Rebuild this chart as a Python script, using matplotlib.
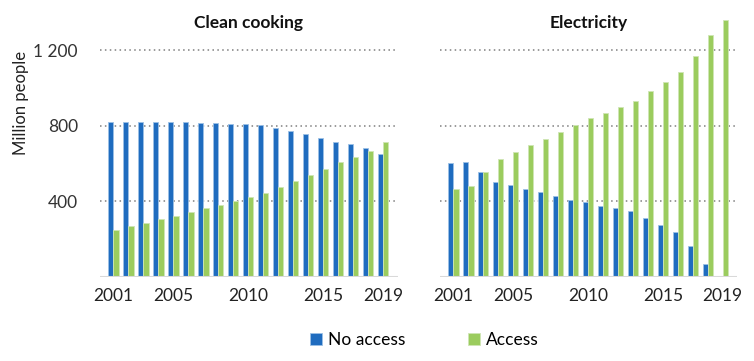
import matplotlib.pyplot as plt
import numpy as np

plt.rcParams['font.family'] = ['Lato', 'DejaVu Sans']

# Data (million people)
years = np.arange(2001, 2020)

cooking_no_access = [823, 823, 823, 821, 821, 820, 818, 816, 812, 809,
                     805, 789, 773, 756, 734, 716, 702, 686, 652]
cooking_access = [251, 268, 288, 308, 325, 345, 364, 384, 405, 425,
                  444, 476, 510, 540, 574, 608, 638, 668, 713]

elec_no_access = [603, 607, 554, 503, 485, 466, 448, 427, 408, 395,
                  378, 363, 348, 311, 273, 236, 164, 71, 3]
elec_access = [468, 483, 554, 626, 662, 697, 732, 769, 806, 840,
               868, 900, 932, 983, 1034, 1087, 1172, 1283, 1364]

tick_years = [2001, 2005, 2010, 2015, 2019]
yticks = [400, 800, 1200]
ytick_labels = ["400", "800", "1 200"]

blue = "#1f6cbf"
green = "#9bcc5e"

fig = plt.figure(figsize=(7.54, 3.61), dpi=100)
ax1 = fig.add_axes([0.1326, 0.2327, 0.395, 0.732])
ax2 = fig.add_axes([0.5836, 0.2327, 0.394, 0.732])

w = 0.34
panels = [(ax1, "Clean cooking", cooking_no_access, cooking_access),
          (ax2, "Electricity", elec_no_access, elec_access)]

for ax, title, no_acc, acc in panels:
    ax.bar(years - w / 2, no_acc, width=w, color=blue, edgecolor="#9cc0e6",
           linewidth=0.6, label="No access", zorder=3)
    ax.bar(years + w / 2, acc, width=w, color=green, edgecolor="#cfe6b4",
           linewidth=0.6, label="Access", zorder=3)
    ax.set_xlim(2000.1, 2019.97)
    ax.set_ylim(0, 1400)
    for y in yticks:
        ax.axhline(y, color="#7f7f7f", linestyle=(0, (1, 2.2)), linewidth=1.1, zorder=1)
    ax.axhline(0, color="#d9d9d9", linewidth=1.5, zorder=4)
    for s in ax.spines.values():
        s.set_visible(False)
    ax.set_xticks(tick_years)
    ax.set_xticklabels([str(t) for t in tick_years], fontsize=12.5, color="#222222")
    ax.tick_params(length=0, pad=8)
    ax.text(0.5, 0.962, title, transform=ax.transAxes, ha="center", va="center",
            fontsize=12.5, fontweight="bold", color="#111111")

ax1.set_yticks(yticks)
ax1.set_yticklabels(ytick_labels, fontsize=12.5, color="#333333")
ax1.tick_params(axis="y", pad=16)
ax1.set_ylabel("Million people", fontsize=12, color="#222222")
ax1.yaxis.set_label_coords(-0.24, 0.66)
ax2.set_yticks([])

handles, labels = ax1.get_legend_handles_labels()
fig.legend(handles, labels, loc="center", bbox_to_anchor=(0.563, 0.058), ncol=2,
           frameon=False, fontsize=12.5, handlelength=0.7, handleheight=0.7,
           handletextpad=0.35, columnspacing=3.6)

fig.savefig("out.png", dpi=100)
